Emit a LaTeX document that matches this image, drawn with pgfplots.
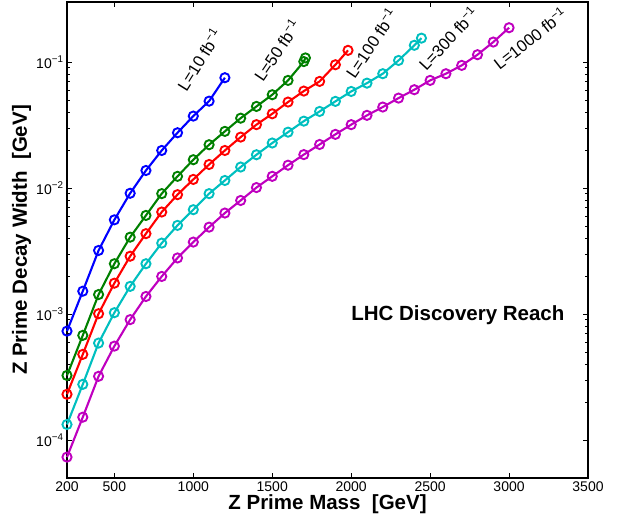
\documentclass[border=0pt]{standalone}
\usepackage{fontspec}
\setmainfont{Liberation Sans}
\usepackage{pgfplots}
\pgfplotsset{compat=1.18}
\definecolor{mblue}{rgb}{0,0,1}
\definecolor{mgreen}{rgb}{0,0.5,0}
\definecolor{mred}{rgb}{1,0,0}
\definecolor{mcyan}{rgb}{0,0.75,0.75}
\definecolor{mmag}{rgb}{0.75,0,0.75}
\begin{document}
\begin{tikzpicture}
\begin{axis}[name=ax, at={(0,0)}, anchor=south west, scale only axis,
  width=521pt, height=476pt,
  xmin=200, xmax=3500, ymode=log, ymin=5e-5, ymax=0.3,
  xtick={200,500,1000,1500,2000,2500,3000,3500},
  xticklabels={200,500,1000,1500,2000,2500,3000,3500},
  ytick={1e-4,1e-3,1e-2,1e-1},
  yticklabels={10\textsuperscript{−4},10\textsuperscript{−3},10\textsuperscript{−2},10\textsuperscript{−1}},
  tick label style={font=\fontsize{14}{15}\selectfont},
  major tick length=5pt, minor tick length=3pt,
  axis line style={line width=1.1pt},
  every tick/.style={black, line width=0.8pt},
  xlabel={Z Prime Mass\ \ [GeV]},
  ylabel={Z Prime Decay Width\ \ [GeV]},
  label style={font=\fontsize{20.5}{22}\selectfont\bfseries},
  xlabel style={at={(axis description cs:0.5,-0.0546)}, anchor=center},
  ylabel style={at={(axis description cs:-0.0873,0.5)}, anchor=center},
  every axis plot/.append style={line width=2.1pt, mark=o, mark size=4.6pt, mark options={line width=1.9pt, solid}},
  clip=false,
]
\addplot[mblue] coordinates {(200,7.33e-4)(300,1.52e-3)(400,3.2e-3)(500,5.6e-3)(600,9.1e-3)(700,0.0138)(800,0.0199)(900,0.0275)(1000,0.0373)(1100,0.049)(1200,0.0752)};
\addplot[mgreen] coordinates {(200,3.26e-4)(300,6.78e-4)(400,1.43e-3)(500,2.51e-3)(600,4.08e-3)(700,6.07e-3)(800,9.04e-3)(900,0.0124)(1000,0.0168)(1100,0.0221)(1200,0.0282)(1300,0.0359)(1400,0.0445)(1500,0.0551)(1600,0.0716)(1700,0.101)(1710,0.108)};
\addplot[mred] coordinates {(200,2.31e-4)(300,4.79e-4)(400,1.007e-3)(500,1.76e-3)(600,2.88e-3)(700,4.35e-3)(800,6.46e-3)(900,8.87e-3)(1000,0.01172)(1100,0.0154)(1200,0.0199)(1300,0.0254)(1400,0.0319)(1500,0.0389)(1600,0.0482)(1700,0.0589)(1800,0.0703)(1900,0.0953)(1980,0.124)};
\addplot[mcyan] coordinates {(200,1.33e-4)(300,2.77e-4)(400,5.89e-4)(500,1.026e-3)(600,1.66e-3)(700,2.51e-3)(800,3.66e-3)(900,5.06e-3)(1000,6.74e-3)(1100,9.04e-3)(1200,0.0115)(1300,0.0147)(1400,0.0184)(1500,0.0228)(1600,0.0278)(1700,0.0340)(1800,0.0406)(1900,0.0488)(2000,0.0585)(2100,0.0681)(2200,0.0809)(2300,0.1031)(2400,0.136)(2445,0.155)};
\addplot[mmag] coordinates {(200,7.33e-5)(300,1.52e-4)(400,3.21e-4)(500,5.57e-4)(600,9.04e-4)(700,1.38e-3)(800,1.99e-3)(900,2.79e-3)(1000,3.73e-3)(1100,4.90e-3)(1200,6.34e-3)(1300,7.98e-3)(1400,0.0101)(1500,0.0124)(1600,0.0152)(1700,0.01845)(1800,0.0222)(1900,0.0267)(2000,0.0319)(2100,0.0378)(2200,0.0440)(2300,0.0518)(2400,0.0604)(2500,0.0716)(2600,0.0809)(2700,0.0942)(2800,0.1145)(2900,0.1443)(3000,0.1875)};
\node[rotate=58, font=\fontsize{16.5}{17}\selectfont] at (axis cs:1036,0.105) {L=10 fb\textsuperscript{−1}};
\node[rotate=56, font=\fontsize{16.5}{17}\selectfont] at (axis cs:1528,0.124) {L=50 fb\textsuperscript{−1}};
\node[rotate=56, font=\fontsize{16.5}{17}\selectfont] at (axis cs:2125,0.141) {L=100 fb\textsuperscript{−1}};
\node[rotate=47, font=\fontsize{16.5}{17}\selectfont] at (axis cs:2613,0.154) {L=300 fb\textsuperscript{−1}};
\node[rotate=38, font=\fontsize{16.5}{17}\selectfont] at (axis cs:3132,0.155) {L=1000 fb\textsuperscript{−1}};
\node[font=\fontsize{20.5}{22}\selectfont\bfseries] at (axis cs:2676,9.8e-4) {LHC Discovery Reach};
\end{axis}
\pgfresetboundingbox
\path[use as bounding box] ([xshift=-67pt,yshift=-45pt]ax.south west) rectangle ([xshift=29pt,yshift=2pt]ax.north east);
\end{tikzpicture}
\end{document}
